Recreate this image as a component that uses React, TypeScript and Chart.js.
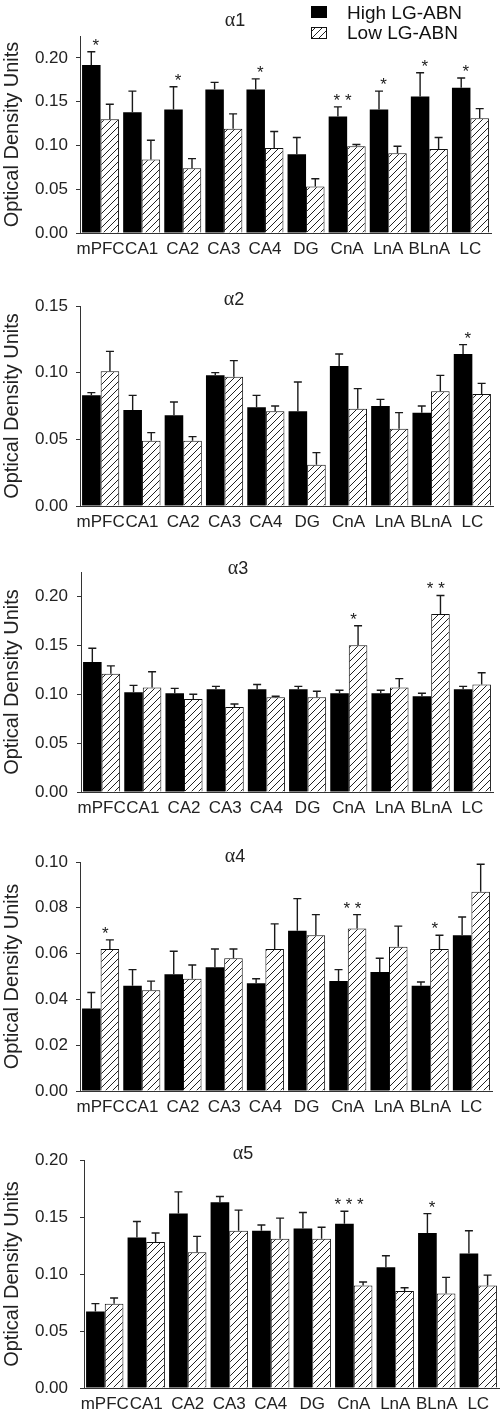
import React, { useEffect, useRef } from "react";
import { Chart, registerables } from "chart.js";

Chart.register(...registerables);
Chart.defaults.font.family = '"Liberation Sans", Arial, Helvetica, sans-serif';

// ---------- data ----------
const categories = ["mPFC", "CA1", "CA2", "CA3", "CA4", "DG", "CnA", "LnA", "BLnA", "LC"];
const seriesNames = ["High LG-ABN", "Low LG-ABN"];
const panelTitles = ["α1", "α2", "α3", "α4", "α5"];
const yAxisTitle = "Optical Density Units";

const a1High = [0.192, 0.138, 0.141, 0.164, 0.164, 0.090, 0.133, 0.141, 0.156, 0.166];
const a1HighSem = [0.015, 0.024, 0.026, 0.008, 0.012, 0.019, 0.011, 0.021, 0.027, 0.011];
const a1Low = [0.130, 0.084, 0.074, 0.119, 0.097, 0.053, 0.099, 0.091, 0.096, 0.131];
const a1LowSem = [0.017, 0.022, 0.011, 0.017, 0.019, 0.009, 0.002, 0.008, 0.013, 0.011];
const a1Sig = ["*", "", "*", "", "*", "", "* *", "*", "*", "*"];

const a2High = [0.083, 0.072, 0.068, 0.098, 0.074, 0.071, 0.105, 0.075, 0.070, 0.114];
const a2HighSem = [0.002, 0.011, 0.010, 0.002, 0.009, 0.022, 0.009, 0.005, 0.005, 0.007];
const a2Low = [0.101, 0.049, 0.049, 0.097, 0.071, 0.031, 0.073, 0.058, 0.086, 0.084];
const a2LowSem = [0.015, 0.006, 0.003, 0.012, 0.004, 0.009, 0.015, 0.012, 0.012, 0.008];
const a2Sig = ["", "", "", "", "", "", "", "", "", "*"];

const a3High = [0.133, 0.102, 0.101, 0.105, 0.105, 0.105, 0.101, 0.101, 0.098, 0.105];
const a3HighSem = [0.014, 0.007, 0.005, 0.003, 0.005, 0.003, 0.003, 0.003, 0.003, 0.003];
const a3Low = [0.121, 0.107, 0.095, 0.087, 0.097, 0.097, 0.150, 0.107, 0.182, 0.110];
const a3LowSem = [0.008, 0.016, 0.005, 0.003, 0.001, 0.006, 0.020, 0.009, 0.019, 0.012];
const a3Sig = ["", "", "", "", "", "", "*", "", "* *", ""];

const a4High = [0.036, 0.046, 0.051, 0.054, 0.047, 0.070, 0.048, 0.052, 0.046, 0.068];
const a4HighSem = [0.007, 0.007, 0.010, 0.008, 0.002, 0.014, 0.005, 0.006, 0.0016, 0.008];
const a4Low = [0.062, 0.044, 0.049, 0.058, 0.062, 0.068, 0.071, 0.063, 0.062, 0.087];
const a4LowSem = [0.004, 0.004, 0.006, 0.004, 0.011, 0.009, 0.006, 0.009, 0.006, 0.012];
const a4Sig = ["*", "", "", "", "", "", "* *", "", "*", ""];

const a5High = [0.067, 0.132, 0.153, 0.163, 0.138, 0.140, 0.144, 0.106, 0.136, 0.118];
const a5HighSem = [0.007, 0.014, 0.019, 0.005, 0.005, 0.014, 0.011, 0.010, 0.017, 0.020];
const a5Low = [0.074, 0.128, 0.119, 0.138, 0.131, 0.131, 0.090, 0.085, 0.083, 0.090];
const a5LowSem = [0.005, 0.008, 0.014, 0.018, 0.018, 0.010, 0.003, 0.003, 0.014, 0.009];
const a5Sig = ["", "", "", "", "", "", "* * *", "", "*", ""];

const yMaxes = [0.225, 0.15, 0.225, 0.10, 0.20];
const ySteps = [0.05, 0.05, 0.05, 0.02, 0.05];

const PANELS = [
  { high: a1High, highSem: a1HighSem, low: a1Low, lowSem: a1LowSem, sig: a1Sig },
  { high: a2High, highSem: a2HighSem, low: a2Low, lowSem: a2LowSem, sig: a2Sig },
  { high: a3High, highSem: a3HighSem, low: a3Low, lowSem: a3LowSem, sig: a3Sig },
  { high: a4High, highSem: a4HighSem, low: a4Low, lowSem: a4LowSem, sig: a4Sig },
  { high: a5High, highSem: a5HighSem, low: a5Low, lowSem: a5LowSem, sig: a5Sig },
];

// ---------- layout (page pixel positions) ----------
const LAYOUT = [
  { top: 0, padTop: 36, plotH: 197, L: 80, R: 491, xH: 30, titleX: 235, titleY: 19 },
  { top: 276, padTop: 30, plotH: 200, L: 80, R: 493, xH: 30, titleX: 234, titleY: 298 },
  { top: 542, padTop: 30, plotH: 220, L: 81, R: 493, xH: 30, titleX: 238, titleY: 567 },
  { top: 832, padTop: 30, plotH: 229, L: 80, R: 492, xH: 30, titleX: 235, titleY: 855 },
  { top: 1130, padTop: 30, plotH: 228, L: 84, R: 499, xH: 24, titleX: 243, titleY: 1152 },
];

const INK = "#1a1a1a";
const AXIS = "#333";

function makeHatch(ctx: CanvasRenderingContext2D) {
  const s = 7;
  const c = document.createElement("canvas");
  c.width = s;
  c.height = s;
  const g = c.getContext("2d")!;
  g.fillStyle = "#fff";
  g.fillRect(0, 0, s, s);
  g.strokeStyle = "#222";
  g.lineWidth = 1;
  g.beginPath();
  g.moveTo(-1, s + 1);
  g.lineTo(s + 1, -1);
  g.moveTo(-2, 1);
  g.lineTo(1, -2);
  g.moveTo(s - 1, s + 2);
  g.lineTo(s + 2, s - 1);
  g.stroke();
  return ctx.createPattern(c, "repeat")!;
}

function Panel({ idx }: { idx: number }) {
  const ref = useRef<HTMLCanvasElement>(null);
  const lay = LAYOUT[idx];
  const H = lay.padTop + lay.plotH + lay.xH;

  useEffect(() => {
    const p = PANELS[idx];
    const canvas = ref.current!;
    const ctx = canvas.getContext("2d")!;
    const hatch = makeHatch(ctx);
    const step = ySteps[idx];
    const sems = [p.highSem, p.lowSem];

    const overlay = {
      id: "overlay" + idx,
      afterDatasetsDraw(chart: any) {
        const c = chart.ctx as CanvasRenderingContext2D;
        const ys = chart.scales.y;
        c.save();
        // error bars
        c.strokeStyle = INK;
        c.lineWidth = 1.4;
        chart.data.datasets.forEach((ds: any, di: number) => {
          const meta = chart.getDatasetMeta(di);
          meta.data.forEach((bar: any, i: number) => {
            const v = ds.data[i];
            const e = sems[di][i];
            const x = bar.x;
            const y0 = ys.getPixelForValue(v);
            const y1 = ys.getPixelForValue(v + e);
            c.beginPath();
            c.moveTo(x, y0);
            c.lineTo(x, y1);
            c.moveTo(x - 4, y1);
            c.lineTo(x + 4, y1);
            c.stroke();
          });
        });
        // significance marks
        const mh = chart.getDatasetMeta(0).data;
        const ml = chart.getDatasetMeta(1).data;
        c.fillStyle = INK;
        c.font = '17px "Liberation Sans", Arial, sans-serif';
        c.textAlign = "center";
        c.textBaseline = "alphabetic";
        p.sig.forEach((s: string, i: number) => {
          if (!s) return;
          const th = p.high[i] + p.highSem[i];
          const tl = p.low[i] + p.lowSem[i];
          const xh = mh[i].x;
          const xl = ml[i].x;
          const center = (xh + xl) / 2;
          const xHigher = th >= tl ? xh : xl;
          const x = (xHigher + center) / 2;
          const y = ys.getPixelForValue(Math.max(th, tl)) - 1;
          c.fillText(s, x, y);
        });
        c.restore();
      },
      afterDraw(chart: any) {
        const c = chart.ctx as CanvasRenderingContext2D;
        c.save();
        // panel title, e.g. α1
        const t = panelTitles[idx];
        const greek = t.slice(0, 1);
        const num = t.slice(1);
        const fG = '20px "Liberation Serif", "DejaVu Serif", serif';
        const fN = '18px "Liberation Sans", Arial, sans-serif';
        c.font = fG;
        const wG = c.measureText(greek).width;
        c.font = fN;
        const wN = c.measureText(num).width;
        const x0 = lay.titleX - (wG + wN) / 2;
        const yb = lay.titleY - lay.top + 6.5;
        c.fillStyle = "#222";
        c.textAlign = "left";
        c.textBaseline = "alphabetic";
        c.font = fG;
        c.fillText(greek, x0, yb);
        c.font = fN;
        c.fillText(num, x0 + wG, yb);

        if (idx === 0) {
          // legend
          c.fillStyle = "#000";
          c.fillRect(311, 6, 16, 12);
          c.fillStyle = hatch;
          c.fillRect(311, 27, 16, 12);
          c.strokeStyle = "#111";
          c.lineWidth = 1;
          c.strokeRect(311.5, 27.5, 15, 11);
          c.fillStyle = "#111";
          c.font = '19px "Liberation Sans", Arial, sans-serif';
          c.fillText(seriesNames[0], 347, 19);
          c.fillText(seriesNames[1], 347, 39);
        }
        c.restore();
      },
    };

    const chart = new Chart(canvas, {
      type: "bar",
      data: {
        labels: categories,
        datasets: [
          {
            label: seriesNames[0],
            data: p.high,
            backgroundColor: "#000",
            borderWidth: 0,
          },
          {
            label: seriesNames[1],
            data: p.low,
            backgroundColor: hatch as any,
            borderColor: "#111",
            borderWidth: 1,
          },
        ],
      },
      options: {
        responsive: false,
        animation: false,
        devicePixelRatio: 1,
        layout: { padding: { top: lay.padTop, left: 0, right: 500 - lay.R, bottom: 0 } },
        datasets: { bar: { barPercentage: 1, categoryPercentage: 0.9 } } as any,
        plugins: {
          legend: { display: false },
          tooltip: { enabled: false },
          title: { display: false },
        },
        scales: {
          x: {
            offset: true,
            grid: {
              display: true,
              drawOnChartArea: false,
              drawTicks: false,
              color: "rgba(0,0,0,0)",
            },
            border: { display: true, color: AXIS, width: 1 },
            ticks: {
              autoSkip: false,
              maxRotation: 0,
              minRotation: 0,
              padding: 6,
              color: "#222",
              font: { size: 17 },
            },
            afterFit: (s: any) => {
              s.height = lay.xH;
            },
          } as any,
          y: {
            min: 0,
            max: yMaxes[idx],
            ticks: {
              stepSize: step,
              padding: lay.L - 4 - 68,
              color: "#222",
              font: { size: 17 },
              callback: (v: any) => Number(v).toFixed(2),
            },
            grid: {
              drawOnChartArea: false,
              drawTicks: true,
              tickLength: 4,
              color: AXIS,
            },
            border: { display: true, color: AXIS, width: 1 },
            title: {
              display: true,
              text: yAxisTitle,
              color: "#222",
              font: { size: 20 },
              padding: { top: 0, bottom: 0 },
            },
            afterFit: (s: any) => {
              s.width = lay.L;
            },
            afterBuildTicks: (s: any) => {
              s.ticks = s.ticks.filter(
                (t: any) => Math.abs(t.value / step - Math.round(t.value / step)) < 1e-6
              );
            },
          } as any,
        },
      },
      plugins: [overlay],
    });
    return () => chart.destroy();
  }, [idx]);

  return (
    <canvas
      ref={ref}
      width={500}
      height={H}
      style={{ position: "absolute", left: 0, top: lay.top, width: 500, height: H, display: "block" }}
    />
  );
}

export default function App() {
  return (
    <div
      style={{
        position: "absolute",
        left: 0,
        top: 0,
        width: 500,
        height: 1412,
        overflow: "hidden",
        background: "#fff",
      }}
    >
      {PANELS.map((_, i) => (
        <Panel key={i} idx={i} />
      ))}
    </div>
  );
}
